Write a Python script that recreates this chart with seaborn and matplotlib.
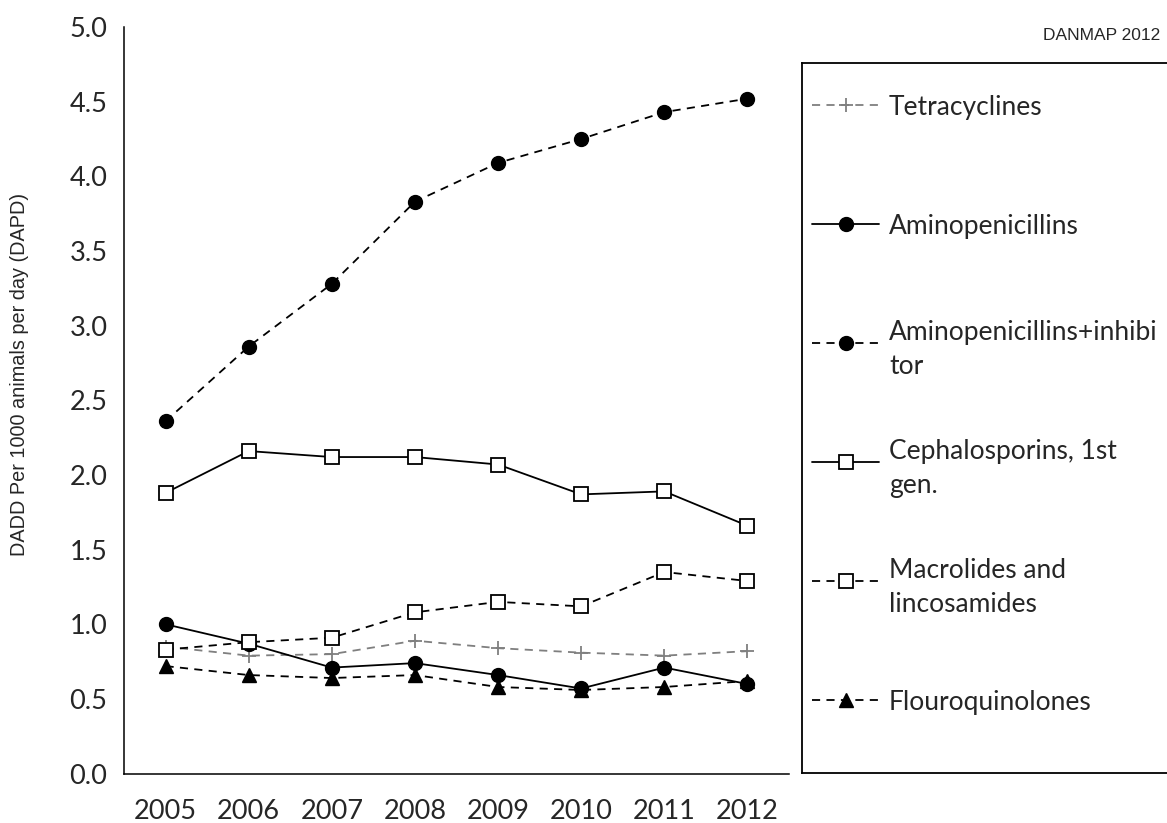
import numpy as np
import pandas as pd
import matplotlib
matplotlib.use('Agg')
import matplotlib.pyplot as plt
import seaborn as sns

# values
years = ['2005', '2006', '2007', '2008', '2009', '2010', '2011', '2012']
tetracyclines = [0.85, 0.79, 0.80, 0.89, 0.84, 0.81, 0.79, 0.82]
aminopenicillins = [1.00, 0.87, 0.71, 0.74, 0.66, 0.57, 0.71, 0.60]
aminopen_inhibitor = [2.36, 2.86, 3.28, 3.83, 4.09, 4.25, 4.43, 4.52]
cephalosporins_1st = [1.88, 2.16, 2.12, 2.12, 2.07, 1.87, 1.89, 1.66]
macrolides = [0.83, 0.88, 0.91, 1.08, 1.15, 1.12, 1.35, 1.29]
flouroquinolones = [0.72, 0.66, 0.64, 0.66, 0.58, 0.56, 0.58, 0.62]

labels = ['Tetracyclines', 'Aminopenicillins', 'Aminopenicillins+inhibi\ntor',
          'Cephalosporins, 1st\ngen.', 'Macrolides and\nlincosamides', 'Flouroquinolones']
series = [tetracyclines, aminopenicillins, aminopen_inhibitor,
          cephalosporins_1st, macrolides, flouroquinolones]

dash = (0, (4.5, 3.5))
styles = [
    dict(color='#7f7f7f', ls=dash, marker='+', ms=10.5, mfc='#7f7f7f', mec='#7f7f7f', mew=1.3),
    dict(color='black', ls='-', marker='o', ms=10, mfc='black', mec='black', mew=1),
    dict(color='black', ls=dash, marker='o', ms=10, mfc='black', mec='black', mew=1),
    dict(color='black', ls='-', marker='s', ms=10, mfc='white', mec='black', mew=1.3),
    dict(color='black', ls=dash, marker='s', ms=10, mfc='white', mec='black', mew=1.3),
    dict(color='black', ls=dash, marker='^', ms=10.5, mfc='black', mec='black', mew=1),
]

sns.set_theme(style='white')
plt.rcParams['font.family'] = ['Lato', 'DejaVu Sans']

W, H = 1167, 823
fig = plt.figure(figsize=(W / 100, H / 100), dpi=100)
ax = fig.add_axes([124 / W, 1 - 773.6 / H, 665 / W, 746.6 / H])

for vals, st in zip(series, styles):
    df = pd.DataFrame({'year': years, 'value': vals})
    sns.lineplot(data=df, x='year', y='value', ax=ax, color=st['color'], linestyle=st['ls'],
                 linewidth=1.3, marker=st['marker'], markersize=st['ms'],
                 markerfacecolor=st['mfc'], markeredgecolor=st['mec'],
                 markeredgewidth=st['mew'], sort=False)

ax.set_xlim(-0.5, len(years) - 0.5)
ax.set_ylim(0, 5)
ax.set_yticks(np.arange(0, 5.01, 0.5))
ax.set_yticklabels([f'{v:.1f}' for v in np.arange(0, 5.01, 0.5)])
ax.set_xticks(np.arange(-0.5, len(years), 1.0))
ax.set_xticklabels([])
ax.set_xticks(np.arange(len(years)), minor=True)
ax.set_xticklabels(years, minor=True)
ax.tick_params(axis='x', which='major', direction='out', length=6, width=1.1, color='black')
ax.tick_params(axis='x', which='minor', length=0, pad=18, labelsize=19.5)
ax.tick_params(axis='y', direction='out', length=5, width=1.1, color='black', pad=7, labelsize=19.5)
for s in ['top', 'right']:
    ax.spines[s].set_visible(False)
for s in ['left', 'bottom']:
    ax.spines[s].set_color('black')
    ax.spines[s].set_linewidth(1.1)
ax.set_xlabel('')
ax.set_ylabel('DADD Per 1000 animals per day (DAPD)', family=['Liberation Sans'], fontsize=14.3)
ax.yaxis.set_label_coords(-0.143, 0.535)

# legend box (right part is cut by the figure edge, as in the source)
lax = fig.add_axes([802 / W, 1 - 773 / H, 0.4, 710 / H])
lax.set_xlim(802, 802 + 0.4 * W)
lax.set_ylim(773, 63)
lax.set_xticks([])
lax.set_yticks([])
lax.patch.set_alpha(0)
for s in lax.spines.values():
    s.set_color('black')
    s.set_linewidth(1.3)
for i, (lab, st) in enumerate(zip(labels, styles)):
    y = 105 + i * 119
    lax.plot([812, 846, 879], [y, y, y], color=st['color'], linestyle=st['ls'], linewidth=1.3,
             marker=st['marker'], markersize=st['ms'], markevery=[1],
             markerfacecolor=st['mfc'], markeredgecolor=st['mec'], markeredgewidth=st['mew'])
    lax.text(889, y, lab, ha='left', va='center_baseline', fontsize=19, linespacing=1.45)

fig.text(1160 / W, 1 - 36 / H, 'DANMAP 2012', ha='right', va='center',
         family=['Liberation Sans'], fontsize=12.5)

fig.savefig('out.png', dpi=100)
